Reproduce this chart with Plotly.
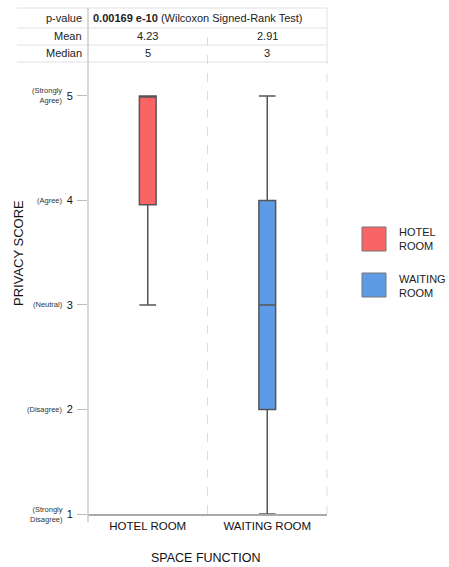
import plotly.graph_objects as go

# ---- data ----
categories = ["HOTEL ROOM", "WAITING ROOM"]
lower_fence = [3, 1]
q1 = [3.96, 2]
median = [5, 3]
q3 = [5, 4]
upper_fence = [5, 5]
means = [4.23, 2.91]
box_colors = ["#F96565", "#5E9BE6"]
legend_labels = ["HOTEL<br>ROOM", "WAITING<br>ROOM"]
y_ticks = [1, 2, 3, 4, 5]
y_descriptors = ["(Strongly<br>Disagree)", "(Disagree)", "(Neutral)", "(Agree)", "(Strongly<br>Agree)"]
p_value_text = "<b>0.00169 e-10</b> (Wilcoxon Signed-Rank Test)"

W, H = 449, 567
L, R, T, B = 88, 449 - 327, 62, 567 - 514
PW, PH = W - L - R, H - T - B
FONT = "Liberation Sans, Arial, Helvetica, sans-serif"


def px(x):
    return (x - L) / PW


def py(y):
    return (H - B - y) / PH


fig = go.Figure()
for i, cat in enumerate(categories):
    fig.add_trace(go.Box(
        x=[cat], q1=[q1[i]], median=[median[i]], q3=[q3[i]],
        lowerfence=[lower_fence[i]], upperfence=[upper_fence[i]],
        fillcolor=box_colors[i], line=dict(color="#555555", width=1.5),
        width=0.14, whiskerwidth=1, name=cat, showlegend=False,
        hoverinfo="skip",
    ))

shapes = []
ann = []
grid = "#dddddd"

# table horizontal lines
for yy in [8, 28, 45, 62]:
    shapes.append(dict(type="line", xref="paper", yref="paper", x0=px(17), x1=px(327),
                       y0=py(yy), y1=py(yy), line=dict(color="#e2e2e2", width=1)))
# y-axis / table column line
shapes.append(dict(type="line", xref="paper", yref="paper", x0=0, x1=0,
                   y0=py(522), y1=py(8), line=dict(color="#cccccc", width=1.5)))
# right border in table
shapes.append(dict(type="line", xref="paper", yref="paper", x0=1, x1=1,
                   y0=py(62), y1=py(8), line=dict(color="#e2e2e2", width=1)))
# dashed dividers
shapes.append(dict(type="line", xref="paper", yref="paper", x0=0.5, x1=0.5,
                   y0=0, y1=py(28), line=dict(color=grid, width=1, dash="dash")))
shapes.append(dict(type="line", xref="paper", yref="paper", x0=1, x1=1,
                   y0=0, y1=1, line=dict(color=grid, width=1, dash="dash")))

# table text
tf = dict(family=FONT, size=11, color="#222222")
for label, yy in [("p-value", 18), ("Mean", 36), ("Median", 53)]:
    ann.append(dict(text=label, xref="paper", yref="paper", x=px(84), y=py(yy),
                    xanchor="right", yanchor="middle", showarrow=False, font=tf))
ann.append(dict(text=p_value_text, xref="paper", yref="paper", x=px(91), y=py(18),
                xanchor="left", yanchor="middle", showarrow=False, font=tf))
for i, cat in enumerate(categories):
    ann.append(dict(text=f"{means[i]:.2f}", xref="x", yref="paper", x=cat, y=py(36),
                    xanchor="center", yanchor="middle", showarrow=False, font=tf))
    ann.append(dict(text=f"{median[i]}", xref="x", yref="paper", x=cat, y=py(53),
                    xanchor="center", yanchor="middle", showarrow=False, font=tf))

# y descriptors
for v, d in zip(y_ticks, y_descriptors):
    ann.append(dict(text=d, xref="paper", yref="y", x=px(65), y=v, xanchor="right",
                    yanchor="middle", align="right", showarrow=False,
                    font=dict(family=FONT, size=7.5, color="#333333")))

# axis titles
ann.append(dict(text="PRIVACY SCORE", xref="paper", yref="paper", x=px(18), y=py(253),
                textangle=-90, xanchor="center", yanchor="middle", showarrow=False,
                font=dict(family=FONT, size=13, color="#111111")))
ann.append(dict(text="SPACE FUNCTION", xref="paper", yref="paper", x=px(206), y=py(558),
                xanchor="center", yanchor="middle", showarrow=False,
                font=dict(family=FONT, size=12.5, color="#111111")))

# legend
leg_y = [(227, 251), (273, 297)]
leg_text_y = [239, 286]
for i in range(len(categories)):
    shapes.append(dict(type="rect", xref="paper", yref="paper", x0=px(362), x1=px(386),
                       y0=py(leg_y[i][1]), y1=py(leg_y[i][0]), fillcolor=box_colors[i],
                       line=dict(color="#777777", width=1)))
    ann.append(dict(text=legend_labels[i], xref="paper", yref="paper", x=px(397),
                    y=py(leg_text_y[i]), xanchor="left", yanchor="middle", align="left",
                    showarrow=False, font=dict(family=FONT, size=11, color="#222222")))

fig.update_layout(
    width=W, height=H, margin=dict(l=L, r=R, t=T, b=B, autoexpand=False),
    paper_bgcolor="white", plot_bgcolor="white", showlegend=False,
    boxmode="overlay",
    font=dict(family=FONT, color="#222222"),
    shapes=shapes, annotations=ann,
    xaxis=dict(type="category", categoryorder="array", categoryarray=categories,
               range=[-0.5, 1.5], showgrid=False, zeroline=False,
               showline=True, linecolor="#aaaaaa", linewidth=1.5, ticks="",
               tickfont=dict(family=FONT, size=11.5, color="#111111")),
    yaxis=dict(range=[1, 5.325], tickvals=y_ticks, ticktext=[str(t) for t in y_ticks],
               showgrid=False, zeroline=False, showline=False, ticks="outside",
               ticklen=10, tickcolor="#bbbbbb", tickwidth=1, ticklabelstandoff=2,
               tickfont=dict(family=FONT, size=11, color="#111111")),
)

fig.write_html(
    "out.html",
    config={"displayModeBar": False},
    post_script="document.body.style.margin='0';document.body.style.overflow='hidden';",
)
